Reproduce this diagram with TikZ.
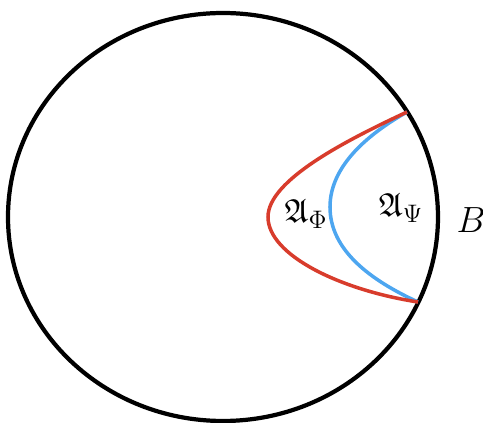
\documentclass[tikz,border=0pt]{standalone}
\usepackage{amssymb}
\definecolor{phired}{RGB}{216,60,44}
\definecolor{psiblue}{RGB}{77,166,240}
\begin{document}
\begin{tikzpicture}[
    curve/.style={line width=2pt},
    lbl/.style={font=\fontsize{19}{22}\selectfont},
  ]
    \useasboundingbox (-4.46,-4.12) rectangle (5.2,4.34);
    \draw[line width=2.4pt] (0,0) ellipse [x radius=4.3, y radius=4.08];

    \coordinate (top) at (3.68,2.10);
    \coordinate (bot) at (3.90,-1.70);

    % the two regions
    \draw[curve, psiblue] (top) .. controls (2.94,1.68) and (2.14,1.04) .. (2.14,0.20)
        .. controls (2.14,-0.66) and (2.94,-1.26) .. (bot);
    \draw[curve, phired] (top) .. controls (2.48,1.54) and (0.90,0.74) .. (0.90,0)
        .. controls (0.90,-0.76) and (2.34,-1.46) .. (bot);

    \node[lbl] (aphi) at (1.66,0.06) {$\mathfrak{A}_\Phi$};
    \node[lbl] (apsi) at (3.56,0.18) {$\mathfrak{A}_\Psi$};
    \node[font=\fontsize{22}{26}\selectfont] (bdry) at (4.96,-0.06) {$B$};
\end{tikzpicture}
\end{document}
